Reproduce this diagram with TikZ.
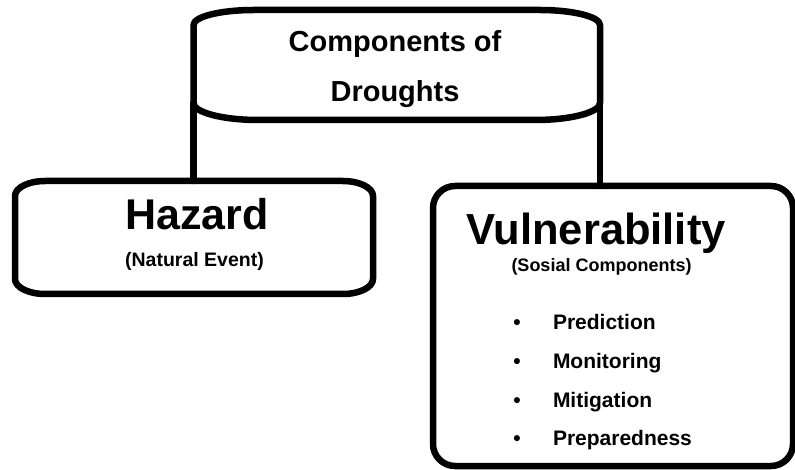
\documentclass[tikz,border=0pt]{standalone}
\usepackage{fontspec}
\setmainfont{Liberation Sans}
\begin{document}
\begin{tikzpicture}[x=1pt,y=1pt,
  ln/.style={line width=6.5pt, line join=round, line cap=round},
  holder/.style={inner sep=0pt, outer sep=0pt},
  txt/.style={inner sep=0pt, outer sep=0pt, anchor=base},
  fsize/.style={font=\bfseries\fontsize{#1}{#1}\selectfont}
]
\useasboundingbox (0,0) rectangle (795,-470);

% frames
\node[holder, minimum width=406.5pt, minimum height=110pt] (top) at (396.75,-65) {};
\node[holder, minimum width=358pt, minimum height=113pt] (haz) at (194,-237.5) {};
\node[holder, draw, ln, rounded corners=22pt, minimum width=360pt, minimum height=280pt] (vul) at (613,-326) {};

% top box outline (elliptical corners)
\draw[ln] ([yshift=-15pt]top.north west)
  arc[start angle=180, end angle=90, x radius=60, y radius=15]
  -- ([xshift=-60pt]top.north east)
  arc[start angle=90, end angle=0, x radius=60, y radius=15]
  -- ([yshift=17pt]top.south east)
  arc[start angle=0, end angle=-90, x radius=65, y radius=17]
  -- ([xshift=65pt]top.south west)
  arc[start angle=270, end angle=180, x radius=65, y radius=17]
  -- cycle;

% hazard box outline (elliptical corners)
\draw[ln] ([yshift=-15pt]haz.north west)
  arc[start angle=180, end angle=90, x radius=30, y radius=15]
  -- ([xshift=-30pt]haz.north east)
  arc[start angle=90, end angle=0, x radius=30, y radius=15]
  -- ([yshift=15pt]haz.south east)
  arc[start angle=0, end angle=-90, x radius=30, y radius=15]
  -- ([xshift=30pt]haz.south west)
  arc[start angle=270, end angle=180, x radius=30, y radius=15]
  -- cycle;

% connectors
\draw[ln] ([yshift=17pt]top.south west) -- (top.south west |- haz.north);
\draw[ln] ([yshift=17pt]top.south east) -- (top.south east |- vul.north);

% texts
\node[txt, fsize=29] (t1) at (395,-52) {Components of};
\node[txt, fsize=29] (t2) at (395,-102) {Droughts};
\node[txt, fsize=43] (hzt) at (197,-230) {Hazard};
\node[txt, fsize=19.5] (hzs) at (194.5,-267) {(Natural Event)};
\node[txt, fsize=43.5] (vt) at (596,-245) {Vulnerability};
\node[txt, fsize=18] (vs) at (601.5,-272) {(Sosial Components)};

\foreach \lab/\yy [count=\i] in {Prediction/329, Monitoring/368, Mitigation/407, Preparedness/445}{
  \node[txt, fsize=21] (b\i) at (517,-\yy) {•};
  \node[txt, anchor=base west, fsize=21] (i\i) at (553,-\yy) {\lab};
}
\end{tikzpicture}
\end{document}
